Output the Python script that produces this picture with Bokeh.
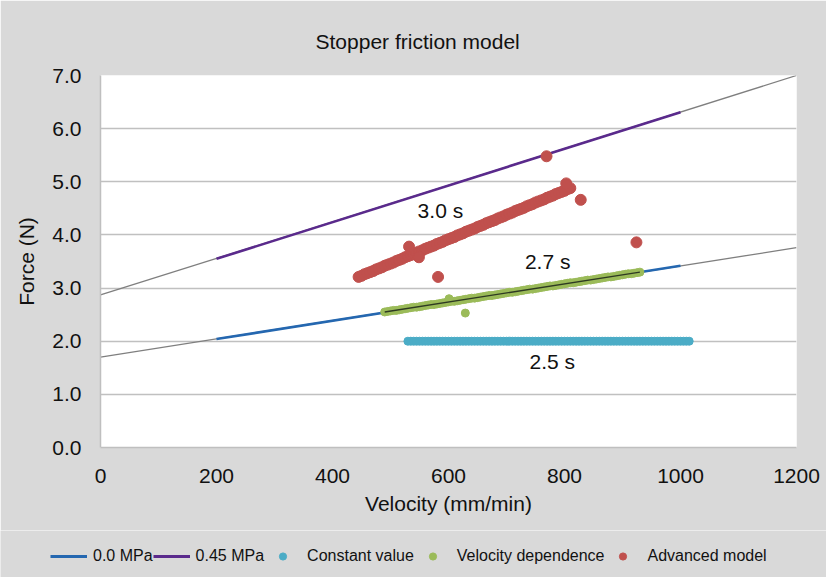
from bokeh.plotting import figure
from bokeh.models import Range1d, Legend, LegendItem, FixedTicker
from bokeh.embed import file_html
from bokeh.resources import INLINE
from bokeh.core.properties import value

FONT = "Liberation Sans"
BG = "#d9d9d9"

# ---- data ----
x_ticks = [0, 200, 400, 600, 800, 1000, 1200]
y_ticks = [0, 1, 2, 3, 4, 5, 6, 7]
y_tick_labels = ["0.0", "1.0", "2.0", "3.0", "4.0", "5.0", "6.0", "7.0"]

trend_x = [0, 1200]
trend_00_y = [1.70, 3.76]
trend_045_y = [2.87, 7.00]

mpa_x = [200, 1000]
mpa00_y = [2.04, 3.42]
mpa045_y = [3.55, 6.31]

const_x = [530, 535, 540, 545, 550, 555, 560, 565, 570, 575, 580, 585, 590, 595, 600,
           605, 610, 615, 620, 625, 630, 635, 640, 645, 650, 655, 660, 665, 670, 675,
           680, 685, 690, 695, 700, 705, 710, 715, 720, 725, 730, 735, 740, 745, 750,
           755, 760, 765, 770, 775, 780, 785, 790, 795, 800, 805, 810, 815, 820, 825,
           830, 835, 840, 845, 850, 855, 860, 865, 870, 875, 880, 885, 890, 895, 900,
           905, 910, 915, 920, 925, 930, 935, 940, 945, 950, 955, 960, 965, 970, 975,
           980, 985, 990, 995, 1000, 1005, 1010, 1015]
const_y = [2.0, 2.0, 2.0, 2.0, 2.0, 2.0, 2.0, 2.0, 2.0, 2.0, 2.0, 2.0, 2.0, 2.0, 2.0,
           2.0, 2.0, 2.0, 2.0, 2.0, 2.0, 2.0, 2.0, 2.0, 2.0, 2.0, 2.0, 2.0, 2.0, 2.0,
           2.0, 2.0, 2.0, 2.0, 2.0, 2.0, 2.0, 2.0, 2.0, 2.0, 2.0, 2.0, 2.0, 2.0, 2.0,
           2.0, 2.0, 2.0, 2.0, 2.0, 2.0, 2.0, 2.0, 2.0, 2.0, 2.0, 2.0, 2.0, 2.0, 2.0,
           2.0, 2.0, 2.0, 2.0, 2.0, 2.0, 2.0, 2.0, 2.0, 2.0, 2.0, 2.0, 2.0, 2.0, 2.0,
           2.0, 2.0, 2.0, 2.0, 2.0, 2.0, 2.0, 2.0, 2.0, 2.0, 2.0, 2.0, 2.0, 2.0, 2.0,
           2.0, 2.0, 2.0, 2.0, 2.0, 2.0, 2.0, 2.0]

vel_x = [490, 495, 500, 505, 510, 515, 520, 525, 530, 535, 540, 545, 550, 555, 560,
         565, 570, 575, 580, 585, 590, 595, 600, 605, 610, 615, 620, 625, 630, 635,
         640, 645, 650, 655, 660, 665, 670, 675, 680, 685, 690, 695, 700, 705, 710,
         715, 720, 725, 730, 735, 740, 745, 750, 755, 760, 765, 770, 775, 780, 785,
         790, 795, 800, 805, 810, 815, 820, 825, 830, 835, 840, 845, 850, 855, 860,
         865, 870, 875, 880, 885, 890, 895, 900, 905, 910, 915, 920, 925, 930,
         601, 629]
vel_y = [2.55, 2.56, 2.57, 2.58, 2.58, 2.59, 2.60, 2.61, 2.62, 2.63, 2.64, 2.64, 2.65, 2.66, 2.67,
         2.68, 2.69, 2.69, 2.70, 2.71, 2.72, 2.73, 2.74, 2.75, 2.75, 2.76, 2.77, 2.78, 2.79, 2.80,
         2.81, 2.81, 2.82, 2.83, 2.84, 2.85, 2.86, 2.86, 2.87, 2.88, 2.89, 2.90, 2.91, 2.92, 2.92,
         2.93, 2.94, 2.95, 2.96, 2.97, 2.98, 2.98, 2.99, 3.00, 3.01, 3.02, 3.03, 3.04, 3.04, 3.05,
         3.06, 3.07, 3.08, 3.09, 3.10, 3.10, 3.11, 3.12, 3.13, 3.14, 3.15, 3.15, 3.16, 3.17, 3.18,
         3.19, 3.20, 3.21, 3.21, 3.22, 3.23, 3.24, 3.25, 3.26, 3.27, 3.27, 3.28, 3.29, 3.30,
         2.80, 2.53]
vel_fit_x = [490, 930]
vel_fit_y = [2.55, 3.30]

adv_x = [445, 450, 455, 460, 465, 470, 475, 480, 485, 490, 495, 500, 505, 510, 515,
         520, 525, 530, 535, 540, 545, 550, 555, 560, 565, 570, 575, 580, 585, 590,
         595, 600, 605, 610, 615, 620, 625, 630, 635, 640, 645, 650, 655, 660, 665,
         670, 675, 680, 685, 690, 695, 700, 705, 710, 715, 720, 725, 730, 735, 740,
         745, 750, 755, 760, 765, 770, 775, 780, 785, 790, 795, 800, 805, 810,
         769, 803, 828, 924, 532, 549, 582]
adv_y = [3.21, 3.23, 3.26, 3.28, 3.30, 3.32, 3.35, 3.37, 3.39, 3.42, 3.44, 3.46, 3.48, 3.51, 3.53,
         3.55, 3.58, 3.60, 3.62, 3.64, 3.67, 3.69, 3.71, 3.74, 3.76, 3.78, 3.80, 3.83, 3.85, 3.87,
         3.90, 3.92, 3.94, 3.96, 3.99, 4.01, 4.03, 4.06, 4.08, 4.10, 4.12, 4.15, 4.17, 4.19, 4.22,
         4.24, 4.26, 4.28, 4.31, 4.33, 4.35, 4.38, 4.40, 4.42, 4.45, 4.47, 4.49, 4.51, 4.54, 4.56,
         4.58, 4.61, 4.63, 4.65, 4.67, 4.70, 4.72, 4.74, 4.77, 4.79, 4.81, 4.83, 4.86, 4.88,
         5.48, 4.97, 4.66, 3.86, 3.78, 3.58, 3.21]

label_text = ["3.0 s", "2.7 s", "2.5 s"]
label_x = [586, 771, 779]
label_y = [4.46, 3.50, 1.61]

legend_labels = ["0.0 MPa", "0.45 MPa", "Constant value", "Velocity dependence", "Advanced model"]

# ---- colours ----
C_00 = "#2467b0"
C_045 = "#5a2a8c"
C_CONST = "#4bacc6"
C_VEL = "#9bbb59"
C_ADV = "#c0504d"

# ---- main chart ----
p = figure(width=826, height=530, output_backend="svg", toolbar_location=None,
           x_range=Range1d(0, 1200), y_range=Range1d(0, 7),
           min_border_left=100, min_border_right=30, min_border_top=75, min_border_bottom=83)
p.background_fill_color = "white"
p.border_fill_color = BG
p.outline_line_color = None

p.title.text = "Stopper friction model\n"
p.title.align = "left"
p.title.offset = 215
p.title.vertical_align = "bottom"
p.title.standoff = 0
p.title.text_font = FONT
p.title.text_font_size = "21px"
p.title.text_font_style = "normal"
p.title.text_color = "#111111"

p.xgrid.visible = False
p.ygrid.grid_line_color = "#c0c0c0"
p.ygrid.grid_line_width = 1.3
p.ygrid.ticker = FixedTicker(ticks=y_ticks)

for ax in (p.xaxis[0], p.yaxis[0]):
    ax.axis_line_color = "#bfbfbf"
    ax.axis_line_width = 1.5
    ax.major_tick_line_color = None
    ax.minor_tick_line_color = None
    ax.major_label_text_font = FONT
    ax.major_label_text_font_size = "21px"
    ax.major_label_text_color = "#111111"
    ax.axis_label_text_font = FONT
    ax.axis_label_text_font_size = "21px"
    ax.axis_label_text_font_style = "normal"
    ax.axis_label_text_color = "#111111"

p.xaxis.ticker = FixedTicker(ticks=x_ticks)
p.xaxis.axis_label = "Velocity (mm/min)"
p.xaxis.major_label_standoff = 15
p.xaxis.axis_label_standoff = 6

p.yaxis.ticker = FixedTicker(ticks=y_ticks)
p.yaxis.major_label_overrides = {t: l for t, l in zip(y_ticks, y_tick_labels)}
p.yaxis.axis_label = "Force (N)"
p.yaxis.major_label_standoff = 13
p.yaxis.axis_label_standoff = 11

p.line(trend_x, trend_00_y, line_color="#7f7f7f", line_width=1.3)
p.line(trend_x, trend_045_y, line_color="#7f7f7f", line_width=1.3)
p.line(mpa_x, mpa00_y, line_color=C_00, line_width=2.6)
p.line(mpa_x, mpa045_y, line_color=C_045, line_width=2.6)
p.scatter(const_x, const_y, size=8, color=C_CONST)
p.scatter(vel_x, vel_y, size=8, color=C_VEL)
p.line(vel_fit_x, vel_fit_y, line_color="#2e3a22", line_width=1.3)
p.scatter(adv_x, adv_y, size=11, color=C_ADV)

p.text(label_x, label_y, text=label_text, text_font=value(FONT), text_font_size="21px",
       text_align="center", text_baseline="middle", text_color="#111111")

# ---- legend strip (separate root so that its frame spans the full width) ----
q = figure(width=826, height=47, output_backend="svg", toolbar_location=None,
           x_range=Range1d(5000, 5001), y_range=Range1d(5000, 5001),
           x_axis_type=None, y_axis_type=None, min_border=0)
q.background_fill_color = BG
q.border_fill_color = BG
q.outline_line_color = None

# same series, drawn outside the strip's visible range: only their legend glyphs show
l00 = q.line(mpa_x, mpa00_y, line_color=C_00, line_width=3)
l045 = q.line(mpa_x, mpa045_y, line_color=C_045, line_width=3)
lc = q.scatter(const_x, const_y, size=8, color=C_CONST)
lv = q.scatter(vel_x, vel_y, size=8, color=C_VEL)
la = q.scatter(adv_x, adv_y, size=8, color=C_ADV)

legend = Legend(items=[
    LegendItem(label=legend_labels[0], renderers=[l00]),
    LegendItem(label=legend_labels[1], renderers=[l045]),
    LegendItem(label=legend_labels[2], renderers=[lc]),
    LegendItem(label=legend_labels[3], renderers=[lv]),
    LegendItem(label=legend_labels[4], renderers=[la]),
], orientation="horizontal", location=(50, 12))
legend.label_text_font = FONT
legend.label_text_font_size = "16px"
legend.label_text_color = "#111111"
legend.glyph_width = 37
legend.glyph_height = 18
legend.label_standoff = 6
legend.spacing = 0
legend.padding = 4
legend.margin = 0
legend.background_fill_alpha = 0
legend.border_line_color = None
q.add_layout(legend)

open("out.html", "w").write(file_html([p, q], INLINE))
